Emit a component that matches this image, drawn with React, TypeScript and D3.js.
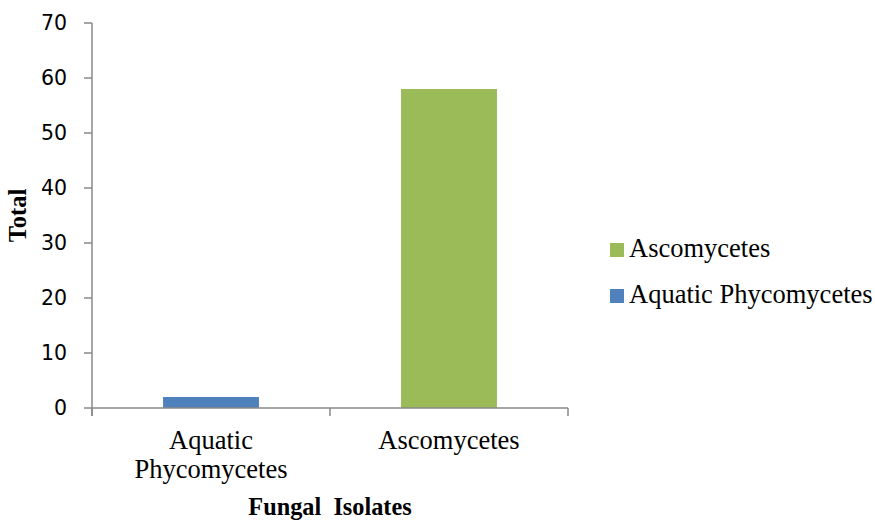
import React from 'react';
import * as d3 from 'd3';

// data
const categories = ['Aquatic Phycomycetes', 'Ascomycetes'];
const categoryLines = [['Aquatic', 'Phycomycetes'], ['Ascomycetes']];
const totals = [2, 58];
const barColors = ['#4F81BD', '#9BBB59'];
const yTicks = [0, 10, 20, 30, 40, 50, 60, 70];
const legendOrder = [1, 0];

const W = 875;
const H = 520;
const margin = { left: 92, right: 307, top: 23, bottom: 112 };

export default function App() {
  const x0 = margin.left;
  const x1 = W - margin.right;
  const y0 = H - margin.bottom;

  const x = d3.scaleBand<string>()
    .domain(categories)
    .range([x0, x1])
    .paddingInner(0.597)
    .paddingOuter(0.2985);
  const xEdges = d3.scaleBand<string>().domain(categories).range([x0, x1]);
  const y = d3.scaleLinear().domain([0, 70]).range([y0, margin.top]);

  const axisColor = '#888888';
  const serif = '"Liberation Serif", "Times New Roman", serif';
  const sans = '"DejaVu Sans", Verdana, sans-serif';

  const edgePositions = [...categories.map(c => xEdges(c)!), x1];

  return (
    <svg width={W} height={H} style={{ position: 'absolute', left: 0, top: 0, background: '#fff' }}>
      {/* bars */}
      {categories.map((c, i) => (
        <rect
          key={c}
          x={x(c)}
          y={y(totals[i])}
          width={x.bandwidth()}
          height={y0 - y(totals[i])}
          fill={barColors[i]}
        />
      ))}

      {/* y axis */}
      <line x1={x0} x2={x0} y1={y(70)} y2={y0 + 8} stroke={axisColor} strokeWidth={1.5} />
      {yTicks.map(t => (
        <g key={t}>
          <line x1={x0 - 8} x2={x0} y1={y(t)} y2={y(t)} stroke={axisColor} strokeWidth={1.5} />
          <text x={67} y={y(t)} dy="0.36em" textAnchor="end" fontFamily={sans} fontSize={20.5} fill="#000">
            {t}
          </text>
        </g>
      ))}

      {/* x axis */}
      <line x1={x0} x2={x1} y1={y0} y2={y0} stroke={axisColor} strokeWidth={1.5} />
      {edgePositions.map((p, i) => (
        <line key={i} x1={p} x2={p} y1={y0} y2={y0 + 8} stroke={axisColor} strokeWidth={1.5} />
      ))}
      {categories.map((c, i) => (
        <text
          key={c}
          x={x(c)! + x.bandwidth() / 2}
          textAnchor="middle"
          fontFamily={serif}
          fontSize={26.5}
          fill="#000"
        >
          {categoryLines[i].map((l, j) => (
            <tspan key={j} x={x(c)! + x.bandwidth() / 2} y={449 + j * 29}>
              {l}
            </tspan>
          ))}
        </text>
      ))}

      {/* axis titles */}
      <text x={(x0 + x1) / 2} y={515} textAnchor="middle" fontFamily={serif} fontSize={24.3} fontWeight="bold" fill="#000" style={{ whiteSpace: 'pre' }}>
        {'Fungal  Isolates'}
      </text>
      <text
        transform={`translate(26,${(margin.top + y0) / 2}) rotate(-90)`}
        textAnchor="middle"
        fontFamily={serif}
        fontSize={24.5}
        fontWeight="bold"
        fill="#000"
      >
        Total
      </text>

      {/* legend */}
      {legendOrder.map((idx, k) => {
        const top = 243 + k * 46;
        return (
          <g key={idx}>
            <rect x={610} y={top} width={14} height={14} fill={barColors[idx]} />
            <text x={629} y={top + 14} fontFamily={serif} fontSize={26.5} fill="#000">
              {categories[idx]}
            </text>
          </g>
        );
      })}
    </svg>
  );
}
